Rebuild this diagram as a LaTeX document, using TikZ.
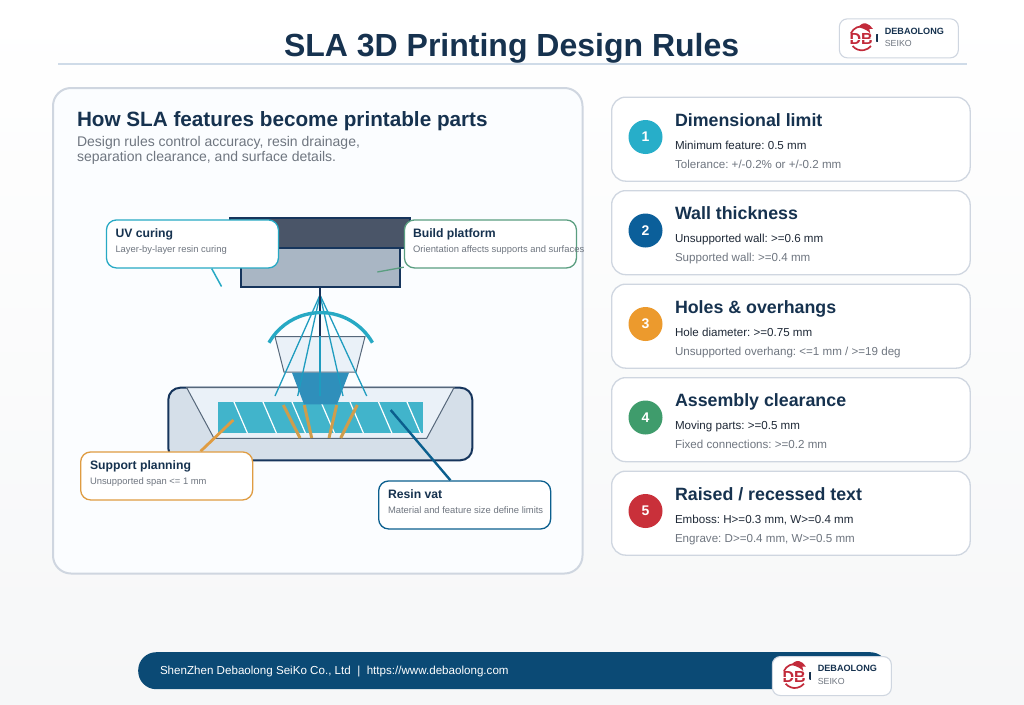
\documentclass[tikz,border=0pt]{standalone}
\usepackage{fontspec}
\setmainfont{Liberation Sans}
\usetikzlibrary{calc}
\definecolor{navy}{HTML}{16324F}
\definecolor{deep}{HTML}{0B4A75}
\definecolor{bodyt}{HTML}{1F2937}
\definecolor{grayt}{HTML}{6F7680}
\definecolor{teal}{HTML}{27A9C4}
\definecolor{rayc}{HTML}{1F9CBF}
\definecolor{vatblue}{HTML}{0B5F8E}
\definecolor{amber}{HTML}{DF9C42}
\definecolor{strutc}{HTML}{CF9D4C}
\definecolor{green1}{HTML}{5A9E80}
\definecolor{cardline}{HTML}{CFD6E0}
\definecolor{logored}{HTML}{C22A3A}
\definecolor{rulec}{HTML}{CFDBE8}
\definecolor{panelbg}{HTML}{FBFDFF}
\definecolor{platA}{HTML}{4A5568}
\definecolor{platB}{HTML}{A9B6C4}
\definecolor{platL}{HTML}{16355C}
\definecolor{vatfill}{HTML}{D5DFE9}
\definecolor{inner}{HTML}{EAF1F8}
\definecolor{edge}{HTML}{56677A}
\definecolor{resin}{HTML}{41B4CB}
\definecolor{darkt}{HTML}{2F8FBB}
\definecolor{pagebot}{HTML}{F6F7F8}
\newcommand{\fs}[1]{\fontsize{#1}{#1}\selectfont}
\pgfdeclarelayer{art}
\pgfsetlayers{art,main}
\tikzset{
  txt/.style={anchor=base west,inner sep=0pt,outer sep=0pt},
  card/.style={draw=cardline,line width=1.3pt,fill=white,rounded corners=14pt,minimum width=358.5pt,minimum height=84pt,inner sep=0pt,anchor=north west},
  badge/.style={circle,minimum size=34pt,inner sep=0pt,text=white,font=\fs{14}\bfseries},
  ctitle/.style={txt,text=navy,font=\fs{17.8}\bfseries},
  cline/.style={txt,text=bodyt,font=\fs{11.6}},
  cnote/.style={txt,text=grayt,font=\fs{11.6}},
  callout/.style={draw=#1,line width=1.3pt,fill=white,rounded corners=10pt,minimum width=172pt,minimum height=48pt,inner sep=0pt,anchor=north west},
  ktitle/.style={txt,text=navy,font=\fs{12.2}\bfseries},
  knote/.style={txt,text=grayt,font=\fs{9.4}},
  logobox/.style={draw=cardline,line width=1.1pt,fill=white,rounded corners=8pt,minimum width=119pt,minimum height=39pt,inner sep=0pt,anchor=north west},
  ray/.style={draw=rayc,line width=1.3pt},
  hatchline/.style={draw=white,line width=1.2pt},
  strut/.style={draw=strutc,line width=3pt},
}
\newcommand{\logoblock}[3]{% prefix, x, y
  \node[logobox] (#1box) at (#2,#3) {};
  \begin{scope}[shift={(#2,#3)}]
    \draw[logored,line width=1.7pt] (23,20)+(140:12) arc[start angle=140,end angle=40,radius=12];
    \draw[logored,line width=1.7pt] (23,20)+(205:12) arc[start angle=205,end angle=285,radius=12];
    \fill[logored] (20,9) .. controls (21,6) and (25,4.5) .. (27,5) -- (31,7) -- (34,10.5) -- (30.5,10.5) -- (31.5,15) .. controls (29,12.5) and (26,10.5) .. (20,9) -- cycle;
    \node[anchor=center,inner sep=0pt,text=logored,font=\fs{16}\bfseries] (#1db) at (22.3,20.8) {DB};
    \draw[white,line width=.5pt] (10,20.8) -- (35,20.8);
    \draw[navy,line width=1.3pt] (39.5,16.5) -- (38.2,16.5) -- (38.2,23) -- (39.5,23);
    \node[txt,text=navy,font=\fs{9.1}\bfseries] (#1name) at (46,15.7) {DEBAOLONG};
    \node[txt,text=grayt,font=\fs{8.8}] (#1sub) at (46,28.2) {SEIKO};
  \end{scope}
}
\begin{document}
\frenchspacing
\begin{tikzpicture}[x=1pt,y=-1pt,line join=round]
\useasboundingbox (0,0) rectangle (1024,704);
\begin{pgfonlayer}{art}
\shade[top color=white,bottom color=pagebot] (0,0) rectangle (1024,704);
\draw[rulec,line width=1.6pt] (58,64) -- (967,64);
\node[draw=cardline,line width=2pt,fill=panelbg,rounded corners=18pt,minimum width=529.5pt,minimum height=485.5pt,anchor=north west,inner sep=0pt] (panel) at (52,87) {};

% platform
\draw[platL,line width=2pt,fill=platA] (230,218) rectangle (410,248);
\draw[platL,line width=2pt,fill=platB] (241,248) rectangle (400,287);

% vat
\draw[platL,line width=2pt,fill=vatfill,rounded corners=12pt] (168.3,387.7) rectangle (472.3,460.3);
\draw[edge,line width=1pt,fill=inner] (186.7,387.7) -- (454,387.7) -- (426.7,438.3) -- (214,438.3) -- cycle;
\fill[resin] (217.7,402) rectangle (423,433.3);
\foreach \xx in {234,263,292,321,350,378.5,407}{\draw[hatchline] (\xx,402) -- (\xx+13.5,433.3);}
\draw[strut] (283.3,405) -- (300,438);
\draw[strut] (304.3,405) -- (311.7,438);
\draw[strut] (336.7,405) -- (329,438);
\draw[strut] (357.3,405) -- (340.7,438);

% lens and rays
\draw[edge,line width=1pt,fill=inner] (275,336.7) -- (365,336.7) -- (356,372) -- (284,372) -- cycle;
\fill[darkt] (292,372.7) -- (349,372.7) -- (337,404.3) -- (304,404.3) -- cycle;
\coordinate (focus) at (320,295);
\foreach \ex in {275,297.7,320,343,366.7}{\draw[ray] (focus) -- (\ex,396);}
\draw[platL,line width=2.6pt] (320,287) -- (320,336);
\draw[teal,line width=3.4pt] (269,342.7) arc[start angle=209.6,end angle=330.4,radius=59.5];
\end{pgfonlayer}

\node[txt,text=navy,font=\fs{32}\bfseries] (title) at (284,56.5) {SLA 3D Printing Design Rules};
\node[txt,text=navy,font=\fs{20.7}\bfseries] (ptitle) at (77,126) {How SLA features become printable parts};
\node[txt,text=grayt,font=\fs{14}] (psub1) at (77,146.5) {Design rules control accuracy, resin drainage,};
\node[txt,text=grayt,font=\fs{14}] (psub2) at (77,161.5) {separation clearance, and surface details.};

% callouts
\node[callout=teal] (uv) at (105.8,219.3) {};
\node[ktitle] (uvt) at (115.5,237) {UV curing};
\node[knote] (uvn) at (115.5,252.5) {Layer-by-layer resin curing};
\node[callout=green1] (bp) at (403.8,219.3) {};
\node[ktitle] (bpt) at (413,237) {Build platform};
\node[knote] (bpn) at (413,252.5) {Orientation affects supports and surfaces};
\node[callout=amber] (sp) at (80,451.3) {};
\node[ktitle] (spt) at (90,469) {Support planning};
\node[knote] (spn) at (90,484.5) {Unsupported span <= 1 mm};
\node[callout=vatblue] (rv) at (378,480.3) {};
\node[ktitle] (rvt) at (388,498) {Resin vat};
\node[knote] (rvn) at (388,513.5) {Material and feature size define limits};

% connectors
\coordinate (uvend) at (221.5,286.5);
\coordinate (bpend) at (377.3,272);
\coordinate (spend) at (233.3,420);
\coordinate (rvend) at (390.7,410);
\begin{pgfonlayer}{art}
\draw[teal,line width=1.5pt] (uv.-52) -- (uvend);
\draw[green1,line width=1.3pt] (bp.195) -- (bpend);
\draw[amber,line width=2.8pt] (sp.36) -- (spend);
\draw[vatblue,line width=2.4pt] (rv.120) -- (rvend);
\end{pgfonlayer}

% cards
\foreach \nm/\yy/\cc/\num/\ttl/\la/\lb in {
 a/96.5/27AEC9/1/{Dimensional limit}/{Minimum feature: 0.5 mm}/{Tolerance: +/-0.2\% or +/-0.2 mm},
 b/190/0B5F9A/2/{Wall thickness}/{Unsupported wall: >=0.6 mm}/{Supported wall: >=0.4 mm},
 c/283.5/EC9A2D/3/{Holes \& overhangs}/{Hole diameter: >=0.75 mm}/{Unsupported overhang: <=1 mm / >=19 deg},
 d/377/3F9C6C/4/{Assembly clearance}/{Moving parts: >=0.5 mm}/{Fixed connections: >=0.2 mm},
 e/470.5/C9303A/5/{Raised / recessed text}/{Emboss: H>=0.3 mm, W>=0.4 mm}/{Engrave: D>=0.4 mm, W>=0.5 mm}}{
  \definecolor{bcol}{HTML}{\cc}
  \node[card] (card\nm) at (611,\yy) {};
  \node[badge,fill=bcol] (badge\nm) at (645.5,\yy+40.5) {\num};
  \node[ctitle] (head\nm) at (675,\yy+29.5) {\ttl};
  \node[cline] (lineA\nm) at (675,\yy+52.5) {\la};
  \node[cnote] (lineB\nm) at (675,\yy+71.5) {\lb};
}

% footer
\node[fill=deep,rounded corners=18pt,minimum width=750pt,minimum height=37pt,inner sep=0pt,anchor=north west] (bar) at (138,652) {};
\node[txt,text=white,font=\fs{11.6}] (foot) at (160,674) {ShenZhen Debaolong SeiKo Co., Ltd\ \ |\ \ https://www.debaolong.com};

\logoblock{top}{838.8}{18.3}
\logoblock{bot}{771.8}{656}
\end{tikzpicture}
\end{document}
